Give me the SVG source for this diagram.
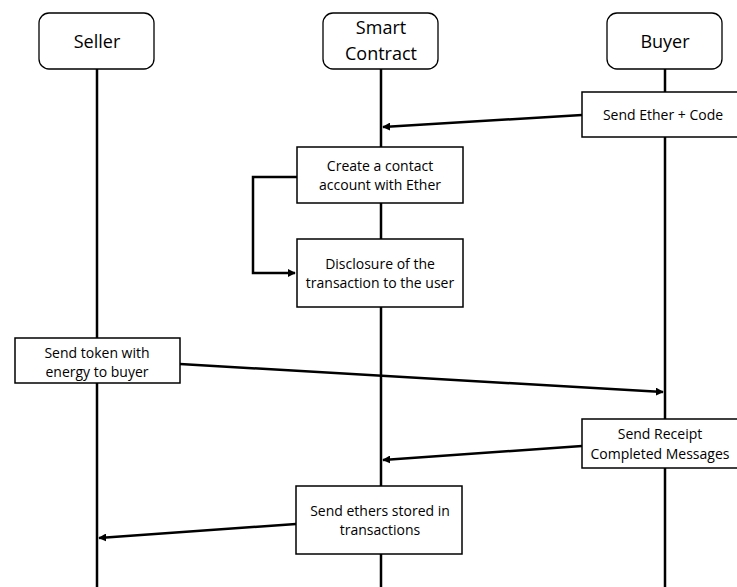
<svg xmlns="http://www.w3.org/2000/svg" width="737" height="587" viewBox="0 0 737 587">
<style>
.lane{fill:#fff;stroke:#000;stroke-width:1.3}
.box{fill:#fff;stroke:#000;stroke-width:1.5}
.life{stroke:#000;stroke-width:2.5;fill:none}
.conn{stroke:#000;stroke-width:2.5;fill:none}
.h{font-family:"Open Sans","Noto Sans",sans-serif;font-size:18px;fill:#000;text-anchor:middle}
.t{font-family:"Open Sans","Noto Sans",sans-serif;font-size:14px;fill:#000;text-anchor:middle}
</style>
<defs>
<marker id="ah" viewBox="0 0 10 10" refX="9" refY="5" markerWidth="3.2" markerHeight="3.2" orient="auto" markerUnits="strokeWidth">
<path d="M0,0 L10,5 L0,10 z" fill="#000"/>
</marker>
</defs>
<rect width="737" height="587" fill="#fff"/>
<g id="lifelines">
<line class="life" x1="97" y1="69" x2="97" y2="587"/>
<line class="life" x1="381" y1="69" x2="381" y2="587"/>
<line class="life" x1="665" y1="69" x2="665" y2="587"/>
</g>
<g id="seller"><rect class="lane" x="39" y="13" width="115" height="56" rx="10"/><text class="h" x="97" y="48">Seller</text></g>
<g id="smart-contract"><rect class="lane" x="323" y="13" width="115" height="56" rx="10"/><text class="h" x="381" y="34">Smart</text><text class="h" x="381" y="60">Contract</text></g>
<g id="buyer"><rect class="lane" x="607" y="13" width="115" height="56" rx="10"/><text class="h" x="665" y="48">Buyer</text></g>
<g id="connectors">
<line class="conn" x1="582" y1="115" x2="383" y2="127" marker-end="url(#ah)"/>
<polyline class="conn" points="297,177 253,177 253,273 295,273" marker-end="url(#ah)"/>
<line class="conn" x1="180" y1="364" x2="663" y2="392" marker-end="url(#ah)"/>
<line class="conn" x1="582" y1="446" x2="383" y2="460" marker-end="url(#ah)"/>
<line class="conn" x1="296" y1="524" x2="99" y2="538" marker-end="url(#ah)"/>
</g>
<g id="send-ether"><rect class="box" x="582" y="92" width="160" height="45"/><text class="t" x="663" y="120">Send Ether + Code</text></g>
<g id="create-account"><rect class="box" x="297" y="147" width="166" height="56"/><text class="t" x="380" y="171">Create a contact</text><text class="t" x="380" y="190">account with Ether</text></g>
<g id="disclosure"><rect class="box" x="297" y="239" width="166" height="68"/><text class="t" x="380" y="269">Disclosure of the</text><text class="t" x="380" y="288">transaction to the user</text></g>
<g id="send-token"><rect class="box" x="15" y="338" width="165" height="45"/><text class="t" x="97" y="358">Send token with</text><text class="t" x="97" y="377">energy to buyer</text></g>
<g id="send-receipt"><rect class="box" x="582" y="419" width="160" height="49"/><text class="t" x="660" y="439">Send Receipt</text><text class="t" x="660" y="459">Completed Messages</text></g>
<g id="send-ethers"><rect class="box" x="296" y="486" width="166" height="68"/><text class="t" x="380" y="516">Send ethers stored in</text><text class="t" x="380" y="535">transactions</text></g>
</svg>
